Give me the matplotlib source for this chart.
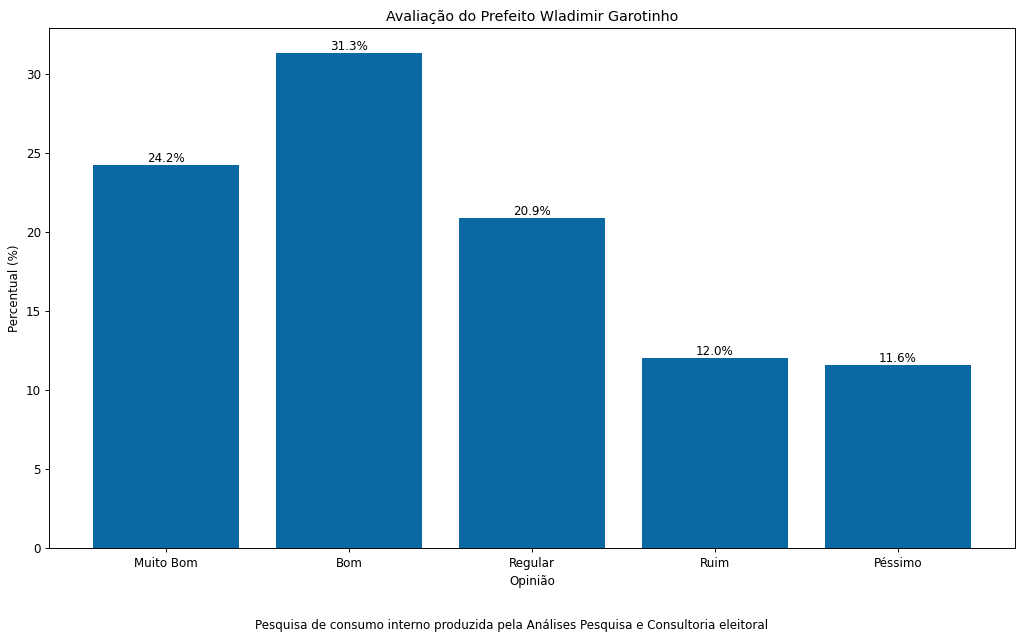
import matplotlib.pyplot as plt

opinioes = ["Muito Bom", "Bom", "Regular", "Ruim", "Péssimo"]
percentuais = [24.2, 31.3, 20.9, 12.0, 11.6]

# figura original 12x7.5 pol, salva reduzida para 1024x640
fig, ax = plt.subplots(figsize=(12, 7.5), dpi=1024 / 12)
fig.subplots_adjust(left=0.048, right=0.991, top=0.956, bottom=0.143)

bars = ax.bar(opinioes, percentuais, color="#0a68a3")
for bar, valor in zip(bars, percentuais):
    ax.text(bar.get_x() + bar.get_width() / 2, bar.get_height(), f"{valor:.1f}%",
            ha="center", va="bottom")

ax.set_title("Avaliação do Prefeito Wladimir Garotinho")
ax.set_xlabel("Opinião")
ax.set_ylabel("Percentual (%)")

fig.text(0.5, 0.0234, "Pesquisa de consumo interno produzida pela Análises Pesquisa e Consultoria eleitoral",
         ha="center", va="center")

fig.savefig("out.png", dpi=1024 / 12)
